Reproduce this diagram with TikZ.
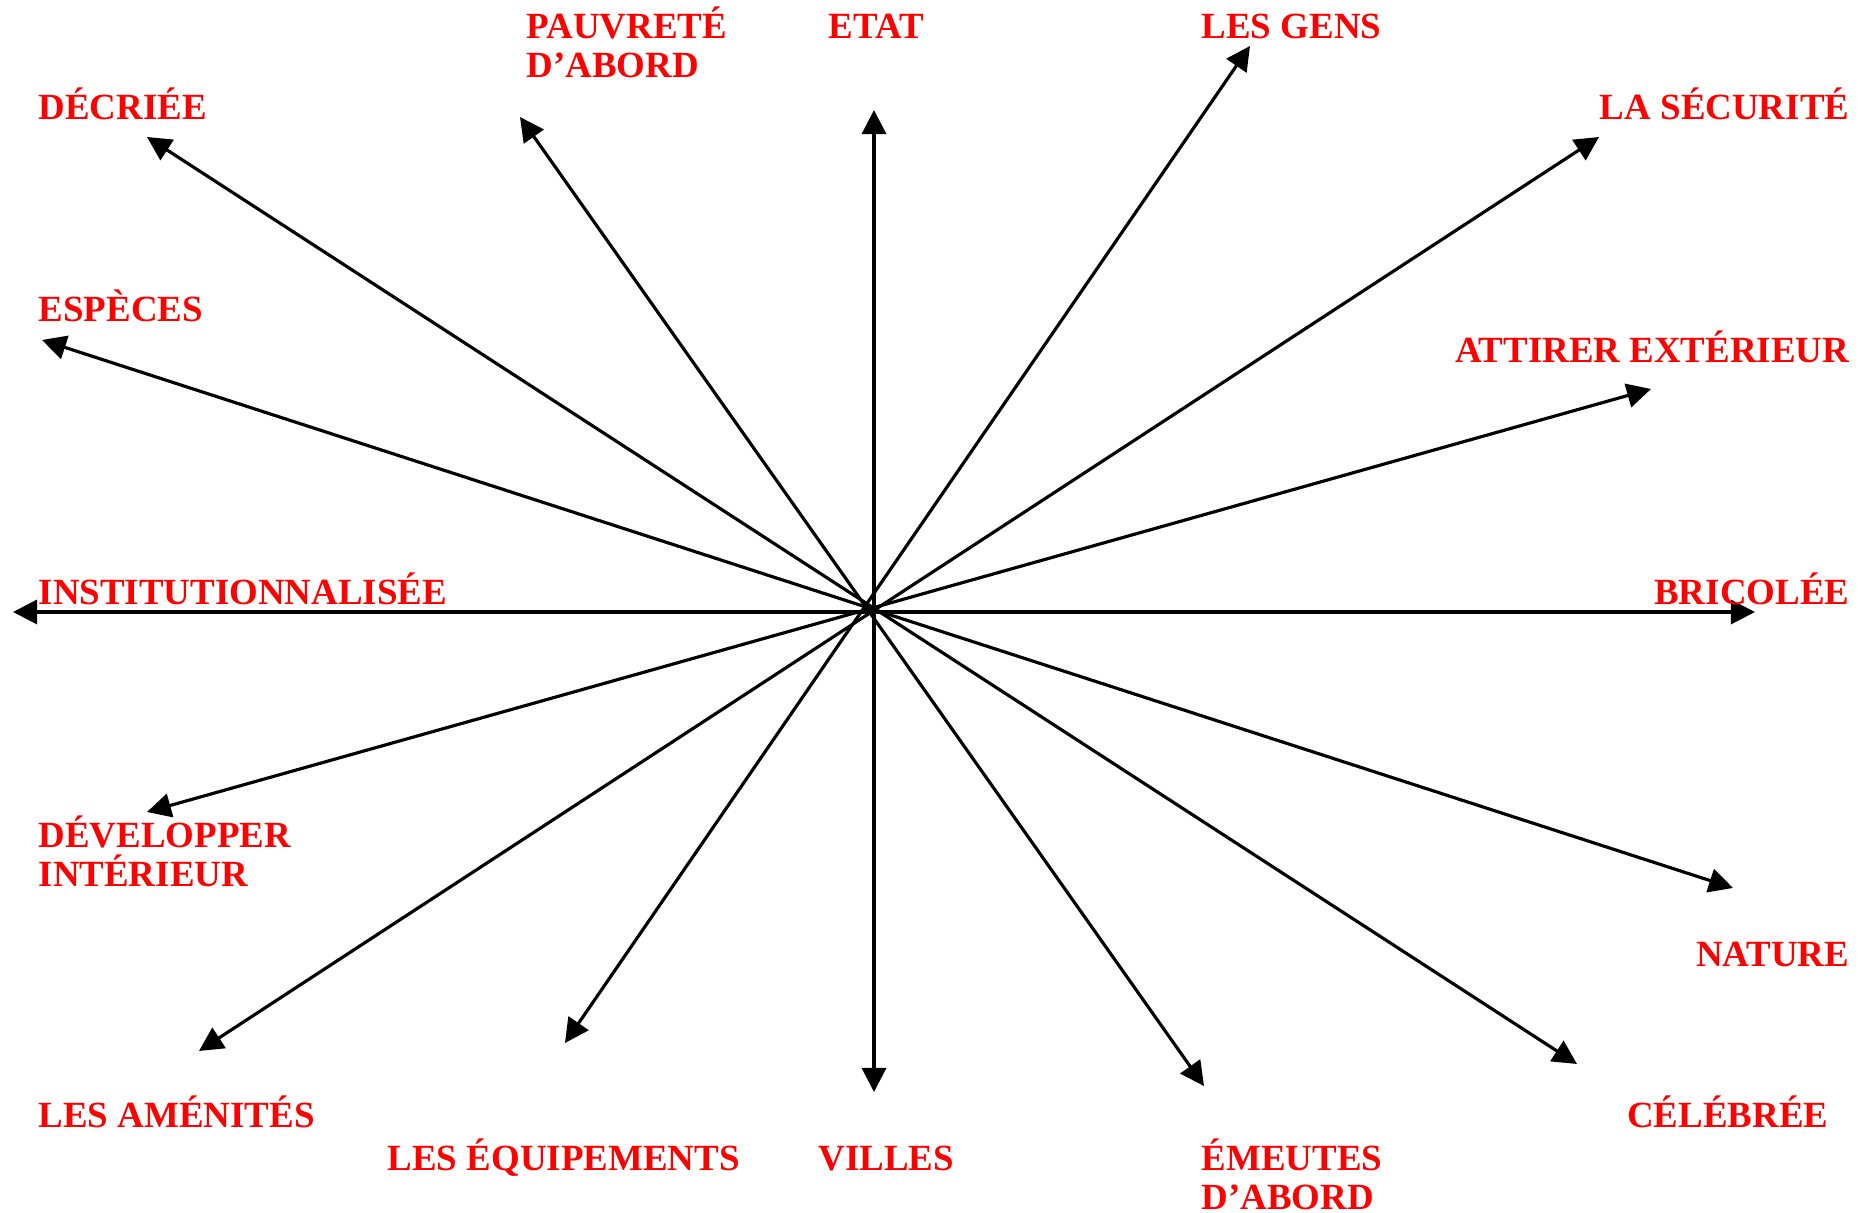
\documentclass[tikz,border=0pt]{standalone}
\usepackage{fontspec}
\setmainfont{Liberation Serif}
\usetikzlibrary{arrows.meta}

\begin{document}
\begin{tikzpicture}[
  x=0.01cm, y=-0.01cm,
  word/.style={text=red, font=\fontsize{10.5}{11.1}\selectfont\bfseries, inner sep=0pt, anchor=base west, align=left},
  axis/.style={draw=black, line width=0.9pt, {Triangle[length=2.4mm,width=2.4mm]}-{Triangle[length=2.4mm,width=2.4mm]}}
]
  \useasboundingbox (0,0) rectangle (1868,1213);
  % arrow ends
  \coordinate (etat-tip) at (874,110);
  \coordinate (villes-tip) at (874,1092);
  \coordinate (gens-tip) at (1250,46);
  \coordinate (equip-tip) at (565,1043);
  \coordinate (secu-tip) at (1599,137);
  \coordinate (amen-tip) at (199,1051);
  \coordinate (attir-tip) at (1651,389);
  \coordinate (devel-tip) at (147,812);
  \coordinate (brico-tip) at (1755,612);
  \coordinate (instit-tip) at (13,612);
  \coordinate (nature-tip) at (1733,888);
  \coordinate (especes-tip) at (42,340);
  \coordinate (celeb-tip) at (1577,1064);
  \coordinate (decri-tip) at (147,137);
  \coordinate (emeut-tip) at (1204,1086);
  \coordinate (pauvr-tip) at (520,117);
  \draw[axis] (etat-tip) -- (villes-tip);
  \draw[axis] (gens-tip) -- (equip-tip);
  \draw[axis] (secu-tip) -- (amen-tip);
  \draw[axis] (attir-tip) -- (devel-tip);
  \draw[axis] (brico-tip) -- (instit-tip);
  \draw[axis] (nature-tip) -- (especes-tip);
  \draw[axis] (celeb-tip) -- (decri-tip);
  \draw[axis] (emeut-tip) -- (pauvr-tip);
  % labels
  \node[word] (pauvr) at (526,78) {PAUVRETÉ\\D’ABORD};
  \node[word] (etat) at (828,39) {ETAT};
  \node[word] (gens) at (1201,39) {LES GENS};
  \node[word] (decri) at (38,120) {DÉCRIÉE};
  \node[word, anchor=base east] (secu) at (1850,120) {LA SÉCURITÉ};
  \node[word] (especes) at (38,322) {ESPÈCES};
  \node[word, anchor=base east] (attir) at (1850,363) {ATTIRER EXTÉRIEUR};
  \node[word] (instit) at (38,605) {INSTITUTIONNALISÉE};
  \node[word, anchor=base east] (brico) at (1850,605) {BRICOLÉE};
  \node[word] (devel) at (38,887) {DÉVELOPPER\\INTÉRIEUR};
  \node[word, anchor=base east] (nature) at (1850,967) {NATURE};
  \node[word] (amen) at (38,1128) {LES AMÉNITÉS};
  \node[word, anchor=base east] (celeb) at (1829,1128) {CÉLÉBRÉE};
  \node[word] (equip) at (387,1171) {LES ÉQUIPEMENTS};
  \node[word] (villes) at (818,1171) {VILLES};
  \node[word] (emeut) at (1201,1210) {ÉMEUTES\\D’ABORD};
\end{tikzpicture}
\end{document}
